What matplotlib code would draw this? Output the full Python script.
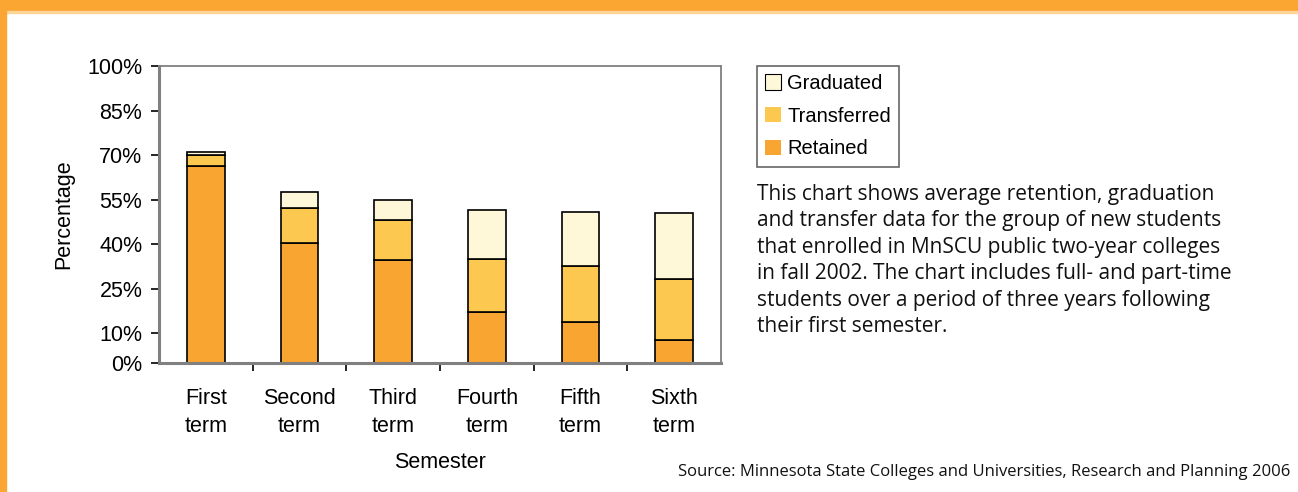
import matplotlib
matplotlib.use('Agg')
import matplotlib.pyplot as plt
from matplotlib.patches import Rectangle, Patch
import numpy as np

# data (percent of students)
terms = ['First\nterm', 'Second\nterm', 'Third\nterm', 'Fourth\nterm', 'Fifth\nterm', 'Sixth\nterm']
retained = [66.2, 40.4, 34.8, 17.1, 13.7, 7.7]
transferred = [3.8, 11.8, 13.3, 17.8, 19.0, 20.7]
graduated = [0.9, 5.3, 6.7, 16.5, 18.3, 22.2]
yticks = [0, 10, 25, 40, 55, 70, 85, 100]

c_ret = '#F9A532'
c_tra = '#FDC850'
c_gra = '#FEF8D8'
W, H = 1298, 492

plt.rcParams['font.family'] = ['Liberation Sans', 'DejaVu Sans']
fig = plt.figure(figsize=(W / 100, H / 100), dpi=100)

# orange page frame
fig.patches.append(Rectangle((0, 1 - 11 / H), 1, 11 / H, transform=fig.transFigure, color='#FBA633', zorder=0))
fig.patches.append(Rectangle((0, 1 - 13 / H), 1, 2 / H, transform=fig.transFigure, color='#FDD596', zorder=0))
fig.patches.append(Rectangle((0, 0), 6 / W, 1, transform=fig.transFigure, color='#FBA633', zorder=0))

ax = fig.add_axes([159 / W, (H - 363) / H, (721 - 159) / W, (363 - 66) / H])
x = np.arange(len(terms))
bw = 0.4
b1 = np.array(retained)
b2 = b1 + np.array(transferred)
ax.bar(x, retained, bw, color=c_ret, edgecolor='black', linewidth=1.2)
ax.bar(x, transferred, bw, bottom=b1, color=c_tra, edgecolor='black', linewidth=1.2)
ax.bar(x, graduated, bw, bottom=b2, color=c_gra, edgecolor='black', linewidth=1.2)

ax.set_xlim(-0.5, 5.5)
ax.set_ylim(0, 100)
ax.set_yticks(yticks)
ax.set_yticklabels([f'{v}%' for v in yticks], fontsize=15.5)
ax.set_xticks(x)
ax.set_xticklabels(terms, fontsize=15.5, linespacing=1.45)
ax.set_xticks(np.arange(0.5, 5.5, 1), minor=True)
ax.tick_params(axis='x', which='major', length=0, pad=18)
ax.tick_params(axis='x', which='minor', length=6, width=1.2, color='black', direction='out')
ax.tick_params(axis='y', length=6, width=1.2, color='black', direction='out', pad=6)
for s in ax.spines.values():
    s.set_color('#808080')
    s.set_linewidth(1.3)
ax.spines['left'].set_linewidth(2.2)
ax.spines['bottom'].set_linewidth(2.2)
ax.set_ylabel('Percentage', fontsize=15.5, labelpad=9)
ax.set_xlabel('Semester', fontsize=15.5, labelpad=11)

handles = [Patch(facecolor=c_gra, edgecolor='black', linewidth=0.8, label='Graduated'),
           Patch(facecolor=c_tra, edgecolor='none', label='Transferred'),
           Patch(facecolor=c_ret, edgecolor='none', label='Retained')]
leg = fig.legend(handles=handles, loc='upper left', bbox_to_anchor=(757 / W, 1 - 66 / H),
                 fontsize=14.5, frameon=True, fancybox=False, handlelength=0.8, handleheight=0.8,
                 handletextpad=0.3, borderpad=0.4, labelspacing=0.68, borderaxespad=0)
leg.get_frame().set_edgecolor('#404040')
leg.get_frame().set_linewidth(1.2)

para = ('This chart shows average retention, graduation\n'
        'and transfer data for the group of new students\n'
        'that enrolled in MnSCU public two-year colleges\n'
        'in fall 2002. The chart includes full- and part-time\n'
        'students over a period of three years following\n'
        'their first semester.')
fig.text(757 / W, 1 - 184 / H, para, fontsize=15.0, family=['Open Sans', 'DejaVu Sans'],
         va='top', ha='left', linespacing=1.34, color='#111111')
fig.text(1290 / W, 1 - 472 / H, 'Source: Minnesota State Colleges and Universities, Research and Planning 2006',
         fontsize=12, family=['Open Sans', 'DejaVu Sans'], va='center', ha='right', color='#111111')

fig.savefig('out.png', dpi=100)
